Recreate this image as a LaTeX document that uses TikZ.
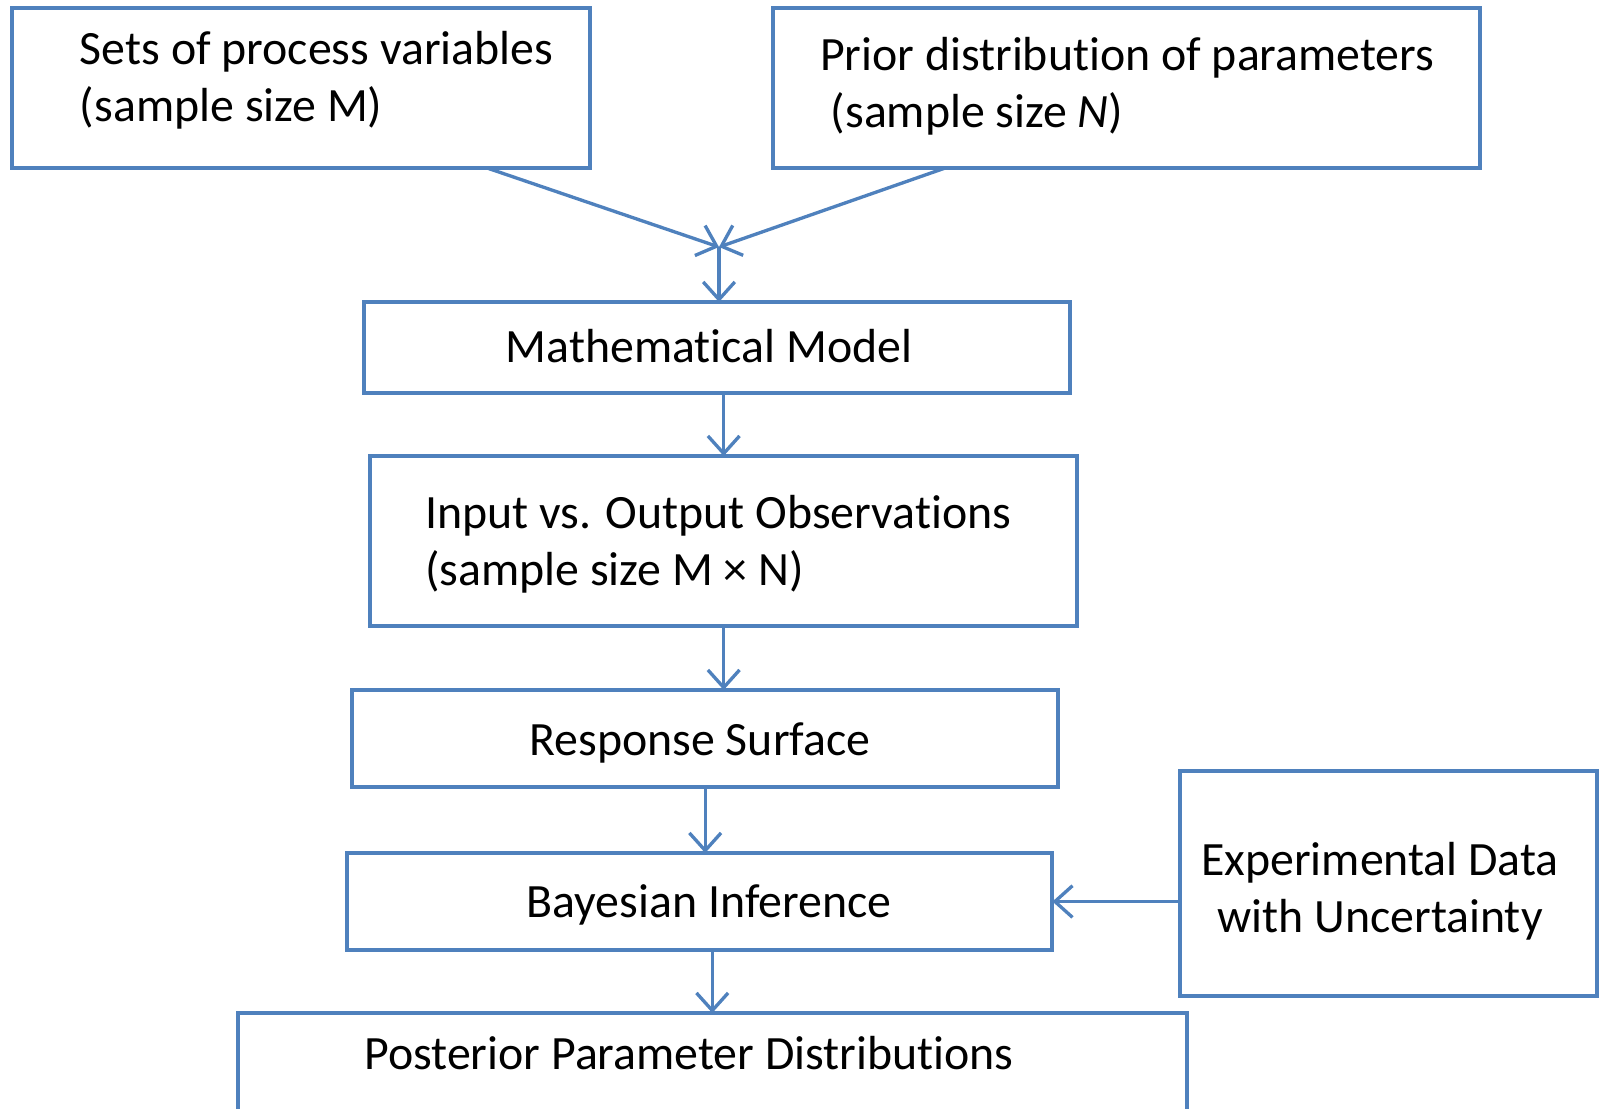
\documentclass[tikz,border=0pt]{standalone}
\usepackage{fontspec}
\setmainfont{Carlito}[Ligatures=NoCommon]
\usetikzlibrary{arrows.meta,calc}
\definecolor{boxblue}{RGB}{79,129,189}
\begin{document}
\begin{tikzpicture}[x=0.01cm,y=-0.01cm,outer sep=0pt,inner sep=0pt,
    box/.style={draw=boxblue, line width=1.15pt, anchor=north west},
    txt/.style={font=\fontsize{13.6}{16.2}\selectfont, align=left},
    flow/.style={draw=boxblue, line width=0.95pt, -{Straight Barb[length=5pt,width=9pt]}}]
    \useasboundingbox (0,0) rectangle (1600,1108);
    \clip (0,0) rectangle (1600,1108);
    % boxes
    \node[box, minimum width=5.78cm, minimum height=1.60cm] (vars) at (12,8) {};
    \node[box, minimum width=7.07cm, minimum height=1.60cm] (prior) at (773,8) {};
    \node[box, minimum width=7.06cm, minimum height=0.91cm] (model) at (364,302) {};
    \node[box, minimum width=7.07cm, minimum height=1.70cm] (obs) at (370,456) {};
    \node[box, minimum width=7.06cm, minimum height=0.97cm] (surf) at (352,690) {};
    \node[box, minimum width=7.05cm, minimum height=0.97cm] (bayes) at (347,853) {};
    \node[box, minimum width=4.17cm, minimum height=2.25cm] (exp) at (1180,771) {};
    \node[box, minimum width=9.48cm, minimum height=1.50cm] (post) at (238,1013) {};
    % texts
    \node[txt, anchor=west] (vars-t) at (80,80) {Sets of process variables\\(sample size M)};
    \node[txt, anchor=west] (prior-t) at (820,86) {Prior distribution of parameters\\\ (sample size \textit{N})};
    \node[txt] (model-t) at (709,346) {Mathematical Model};
    \node[txt, anchor=west] (obs-t) at (425,544) {Input vs. Output Observations\\(sample size M × N)};
    \node[txt] (surf-t) at (700,743) {Response Surface};
    \node[txt] (bayes-t) at (709,905) {Bayesian Inference};
    \node[txt, align=center] (exp-t) at (1380,891) {Experimental Data\\with Uncertainty};
    \node[txt] (post-t) at (689,1053) {Posterior Parameter Distributions};
    % connectors
    \coordinate (m) at (719,247);
    \draw[flow] ($(vars.south west)!0.822!(vars.south east)$) -- (m);
    \draw[flow] ($(prior.south west)!0.243!(prior.south east)$) -- (m);
    \draw[flow] (m) -- (m |- model.north);
    \draw[flow] (model.south -| obs.north) -- (obs.north);
    \draw[flow] (obs.south) -- (obs.south |- surf.north);
    \draw[flow] (surf.south) -- (surf.south |- bayes.north);
    \draw[flow] (bayes.south -| post.north) -- (post.north);
    \draw[flow] (exp.west |- bayes.east) -- (bayes.east);
\end{tikzpicture}
\end{document}
